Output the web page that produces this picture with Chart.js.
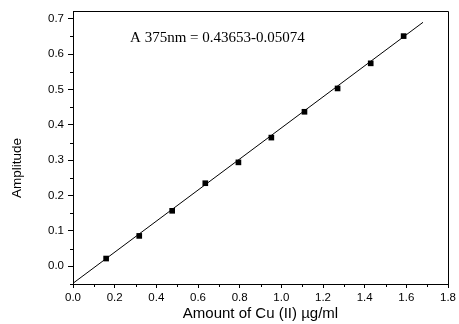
<!DOCTYPE html>
<html>
<head>
<meta charset="utf-8">
<script src="https://cdn.jsdelivr.net/npm/chart.js@4"></script>
<style>
html,body{margin:0;padding:0;background:#fff;}
#wrap{width:459px;height:324px;}
</style>
</head>
<body>
<div id="wrap"><canvas id="c" width="459" height="324"></canvas></div>
<script>
// Data
const concentrations = [0.159, 0.318, 0.476, 0.635, 0.794, 0.952, 1.111, 1.270, 1.429, 1.587];
const amplitudes     = [0.022, 0.086, 0.157, 0.235, 0.294, 0.364, 0.437, 0.503, 0.574, 0.651];
const fitX = [0, 1.68];
const fitY = [-0.048, 0.69];
const xTicks = [0, 0.2, 0.4, 0.6, 0.8, 1.0, 1.2, 1.4, 1.6, 1.8];
const yTicks = [0, 0.1, 0.2, 0.3, 0.4, 0.5, 0.6, 0.7];
const xMinorTicks = [0.1, 0.3, 0.5, 0.7, 0.9, 1.1, 1.3, 1.5, 1.7];
const yMinorTicks = [-0.05, 0.05, 0.15, 0.25, 0.35, 0.45, 0.55, 0.65];
const annotationText = 'A 375nm = 0.43653-0.05074';
const xTitle = 'Amount of Cu (II) µg/ml';
const yTitle = 'Amplitude';

const sans = "'Liberation Sans', Arial, sans-serif";
const serif = "'Liberation Serif', 'Times New Roman', serif";

const extras = {
  id: 'extras',
  afterDraw(chart) {
    const ctx = chart.ctx;
    const a = chart.chartArea;
    const xs = chart.scales.x, ys = chart.scales.y;
    ctx.save();
    ctx.strokeStyle = '#000';
    ctx.lineWidth = 1;
    // frame top & right
    ctx.beginPath();
    ctx.moveTo(Math.round(a.left) + 0.5, Math.round(a.top) + 0.5);
    ctx.lineTo(Math.round(a.right) + 0.5, Math.round(a.top) + 0.5);
    ctx.lineTo(Math.round(a.right) + 0.5, Math.round(a.bottom) + 0.5);
    ctx.stroke();
    // minor ticks
    ctx.beginPath();
    xMinorTicks.forEach(v => {
      const px = Math.round(xs.getPixelForValue(v)) + 0.5;
      ctx.moveTo(px, a.bottom);
      ctx.lineTo(px, a.bottom + 3);
    });
    yMinorTicks.forEach(v => {
      const py = Math.round(ys.getPixelForValue(v)) + 0.5;
      ctx.moveTo(a.left, py);
      ctx.lineTo(a.left - 3, py);
    });
    ctx.stroke();
    // annotation
    ctx.fillStyle = '#000';
    ctx.font = '15px ' + serif;
    ctx.textBaseline = 'middle';
    ctx.textAlign = 'left';
    ctx.fillText(annotationText, xs.getPixelForValue(0.274), ys.getPixelForValue(0.645));
    // y title
    ctx.font = '13.5px ' + sans;
    ctx.translate(17, 168);
    ctx.rotate(-Math.PI / 2);
    ctx.textAlign = 'center';
    ctx.fillText(yTitle, 0, 0);
    ctx.restore();
  }
};

new Chart(document.getElementById('c'), {
  type: 'scatter',
  data: {
    datasets: [
      {
        type: 'line',
        data: fitX.map((x, i) => ({x, y: fitY[i]})),
        borderColor: '#000',
        borderWidth: 1,
        pointRadius: 0,
        fill: false,
        tension: 0,
        order: 2
      },
      {
        data: concentrations.map((x, i) => ({x, y: amplitudes[i]})),
        pointStyle: 'rect',
        pointRadius: 4,
        backgroundColor: '#000',
        borderColor: '#000',
        borderWidth: 0,
        order: 1
      }
    ]
  },
  options: {
    responsive: false,
    animation: false,
    devicePixelRatio: 1,
    layout: {padding: {left: 0, right: 8, top: 11, bottom: 0}},
    plugins: {legend: {display: false}, tooltip: {enabled: false}},
    scales: {
      x: {
        type: 'linear',
        min: 0, max: 1.8,
        afterBuildTicks: s => { s.ticks = xTicks.map(v => ({value: v})); },
        afterFit: s => { s.height = 40; },
        grid: {drawOnChartArea: false, drawTicks: true, tickLength: 4, color: '#000'},
        border: {display: true, color: '#000', width: 1},
        ticks: {
          color: '#000', padding: 3, maxRotation: 0, autoSkip: false,
          font: {family: sans, size: 11.5},
          callback: v => Number(v).toFixed(1)
        },
        title: {display: true, text: xTitle, color: '#000', font: {family: sans, size: 15}, padding: {top: 0, bottom: 1}}
      },
      y: {
        type: 'linear',
        min: -0.05, max: 0.722,
        afterBuildTicks: s => { s.ticks = yTicks.map(v => ({value: v})); },
        afterFit: s => { s.width = 73; },
        grid: {drawOnChartArea: false, drawTicks: true, tickLength: 5, color: '#000'},
        border: {display: true, color: '#000', width: 1},
        ticks: {
          color: '#000', padding: 4, autoSkip: false,
          font: {family: sans, size: 11.5},
          callback: v => Number(v).toFixed(1)
        }
      }
    }
  },
  plugins: [extras]
});
</script>
</body>
</html>
